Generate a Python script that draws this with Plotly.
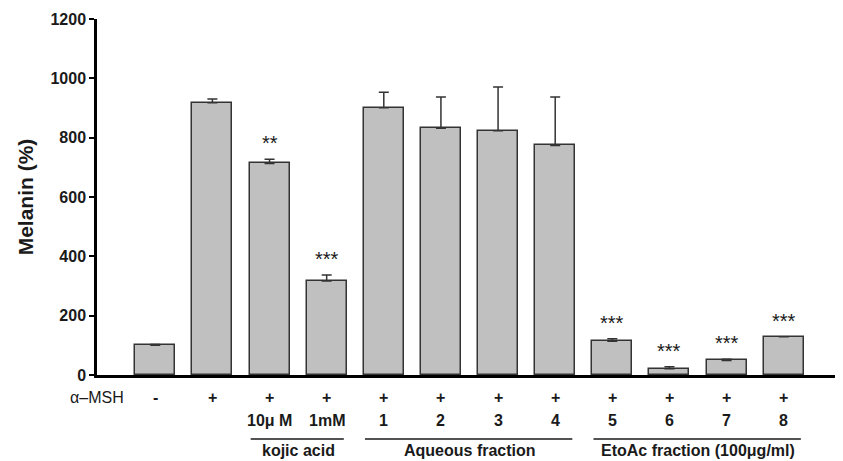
import plotly.graph_objects as go

msh = ["-", "+", "+", "+", "+", "+", "+", "+", "+", "+", "+", "+"]
sub_labels = ["", "", "10\u03bc M", "1mM", "1", "2", "3", "4", "5", "6", "7", "8"]
values = [100, 918, 713, 317, 901, 832, 823, 774, 114, 21, 49, 129]
errors = [3, 12, 14, 20, 52, 105, 148, 163, 8, 7, 4, 0]
stars = ["", "", "**", "***", "", "", "", "", "***", "***", "***", "***"]
groups = [("kojic acid", 2, 3), ("Aqueous fraction", 4, 7), ("EtoAc fraction (100\u03bcg/ml)", 8, 11)]
y_ticks = [0, 200, 400, 600, 800, 1000, 1200]

xs = list(range(len(values)))
FONT = "Liberation Sans, Arial, sans-serif"
TXT = "#1a1a1a"

fig = go.Figure()
fig.add_trace(go.Bar(
    x=xs, y=values, width=0.7,
    marker=dict(color="#c0c0c0", line=dict(color="#333333", width=1.5)),
    error_y=dict(type="data", array=errors, arrayminus=[0] * len(errors),
                 symmetric=False, color="#333333", thickness=1.5, width=5),
))

ann = []
for i, s in enumerate(stars):
    if s:
        ann.append(dict(x=i, y=values[i] + errors[i], yref="y", text=s, showarrow=False,
                        yshift=16, font=dict(size=20, color=TXT, family=FONT)))
ann.append(dict(x=0, y=-0.062, xref="paper", yref="paper", text="\u03b1\u2013MSH", showarrow=False,
                xanchor="center", yanchor="middle", font=dict(size=16, color=TXT, family=FONT)))
for i in xs:
    ann.append(dict(x=i, y=-0.062, xref="x", yref="paper", text="<b>%s</b>" % msh[i], showarrow=False,
                    xanchor="center", yanchor="middle", font=dict(size=16, color=TXT, family=FONT)))
    if sub_labels[i]:
        ann.append(dict(x=i, y=-0.129, xref="x", yref="paper", text="<b>%s</b>" % sub_labels[i],
                        showarrow=False, xanchor="center", yanchor="middle",
                        font=dict(size=16, color=TXT, family=FONT)))
shapes = []
for name, a, b in groups:
    shapes.append(dict(type="line", xref="x", yref="paper", x0=a - 0.33, x1=b + 0.3,
                       y0=-0.18, y1=-0.18, line=dict(color=TXT, width=1.5)))
    ann.append(dict(x=(a + b) / 2, y=-0.213, xref="x", yref="paper", text="<b>%s</b>" % name,
                    showarrow=False, xanchor="center", yanchor="middle",
                    font=dict(size=16, color=TXT, family=FONT)))

fig.update_layout(
    width=843, height=461,
    margin=dict(l=89, r=9, t=11, b=94),
    plot_bgcolor="white", paper_bgcolor="white",
    showlegend=False, bargap=0,
    annotations=ann, shapes=shapes,
    font=dict(family=FONT, color=TXT),
    xaxis=dict(range=[-1.02, 12.02], showticklabels=False, ticks="", showgrid=False,
               showline=True, linecolor="black", linewidth=2.5, zeroline=False, automargin=False),
    yaxis=dict(range=[0, 1200], tickvals=y_ticks, ticks="outside", ticklen=5, tickwidth=2,
               tickcolor="black", showline=True, linecolor="black", linewidth=2.5,
               showgrid=False, zeroline=False, automargin=False,
               tickfont=dict(size=16, family=FONT, color=TXT, weight="bold"),
               title=dict(text="<b>Melanin (%)</b>", font=dict(size=21, family=FONT, color=TXT),
                          standoff=12)),
)
fig.write_html("out.html")
